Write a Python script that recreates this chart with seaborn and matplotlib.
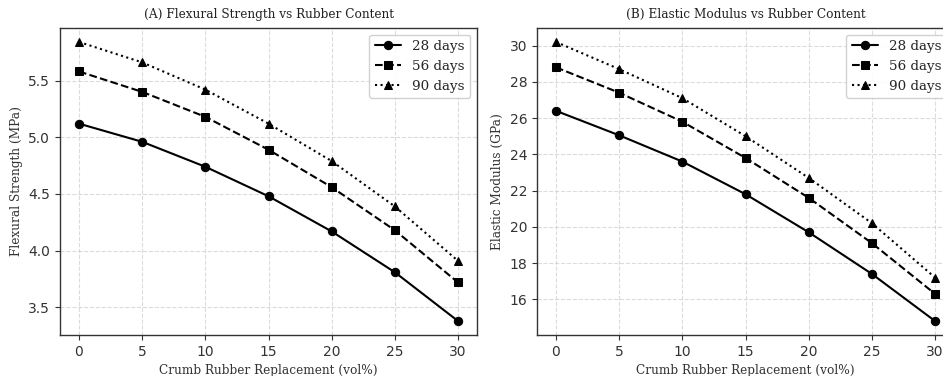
import matplotlib
matplotlib.use("Agg")
import matplotlib.pyplot as plt
from matplotlib.font_manager import FontProperties
import seaborn as sns
import pandas as pd

rubber = [0, 5, 10, 15, 20, 25, 30]
ages = ["28 days", "56 days", "90 days"]

flex_28 = [5.12, 4.96, 4.74, 4.48, 4.17, 3.81, 3.38]
flex_56 = [5.58, 5.40, 5.18, 4.89, 4.56, 4.18, 3.72]
flex_90 = [5.84, 5.66, 5.42, 5.12, 4.79, 4.39, 3.91]

mod_28 = [26.4, 25.05, 23.6, 21.8, 19.7, 17.4, 14.8]
mod_56 = [28.8, 27.4, 25.8, 23.8, 21.6, 19.1, 16.3]
mod_90 = [30.2, 28.7, 27.1, 25.0, 22.7, 20.2, 17.2]

sns.set_style("ticks")
plt.rcParams["font.family"] = ["DejaVu Sans"]
plt.rcParams["font.serif"] = ["DejaVu Serif"]

W, H = 943, 376
fig = plt.figure(figsize=(W / 100, H / 100), dpi=100)

def px_axes(left, top, right, bottom):
    return fig.add_axes([left / W, 1 - bottom / H, (right - left) / W, (bottom - top) / H])

ax1 = px_axes(60, 28, 477, 335)
ax2 = px_axes(537, 28, 954, 335)

styles = [("o", "-"), ("s", "--"), ("^", ":")]

def serif(size):
    return FontProperties(family="serif", stretch="normal", size=size)

def draw(ax, series, ylabel, title):
    for name, vals, (mk, ls) in zip(ages, series, styles):
        df = pd.DataFrame({"x": rubber, "y": vals})
        sns.lineplot(data=df, x="x", y="y", ax=ax, color="black", marker=mk,
                     linestyle=ls, linewidth=1.5, markersize=6,
                     markeredgecolor="black", label=name)
    ax.set_xticks(rubber)
    ax.grid(True, linestyle="--", color="#cccccc", alpha=0.7, linewidth=0.8)
    for s in ax.spines.values():
        s.set_color("#333333")
        s.set_linewidth(1.0)
    ax.tick_params(labelsize=10, colors="#333333")
    ax.set_xlabel("Crumb Rubber Replacement (vol%)", fontproperties=serif(8.7), color="#333333")
    ax.set_ylabel(ylabel, fontproperties=serif(8.7), color="#333333")
    ax.set_title(title, fontproperties=serif(8.7), color="#222222", pad=7)
    ax.legend(loc="upper right", prop=serif(9.7),
              framealpha=0.9, edgecolor="#cccccc", handlelength=2.0)

draw(ax1, [flex_28, flex_56, flex_90], "Flexural Strength (MPa)", "(A) Flexural Strength vs Rubber Content")
draw(ax2, [mod_28, mod_56, mod_90], "Elastic Modulus (GPa)", "(B) Elastic Modulus vs Rubber Content")
ax1.set_yticks([3.5, 4.0, 4.5, 5.0, 5.5])
ax2.set_yticks([16, 18, 20, 22, 24, 26, 28, 30])

fig.savefig("out.png", dpi=100)
